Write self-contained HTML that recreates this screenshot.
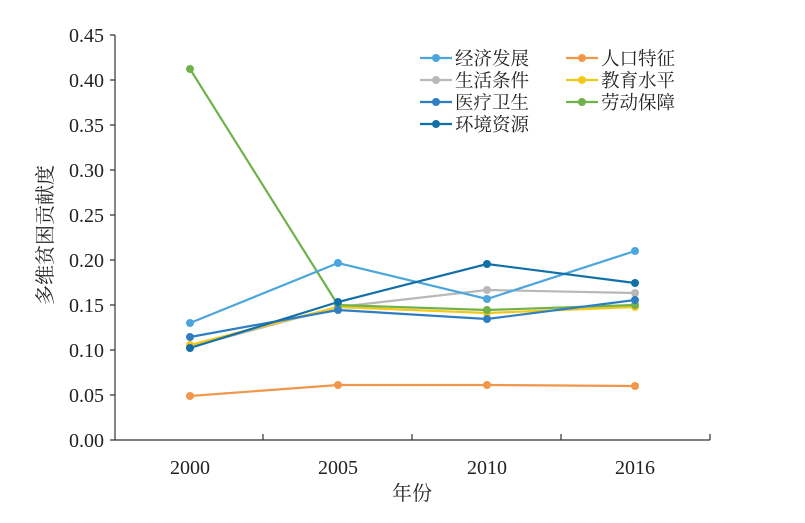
<!DOCTYPE html>
<html><head><meta charset="utf-8"><style>
body{margin:0;background:#fff}
text{font-family:"Liberation Serif","Noto Serif CJK SC",serif;fill:#222}
</style></head><body>
<svg width="805" height="518" xmlns="http://www.w3.org/2000/svg">
<g stroke="#333" stroke-width="1.2" fill="none">
<path d="M115 35V440H710"/>
<path d="M115 35h-5M115 80h-5M115 125h-5M115 170h-5M115 215h-5M115 260h-5M115 305h-5M115 350h-5M115 395h-5M115 440h-5"/>
<path d="M263 440v-6M412 440v-6M561 440v-6M710 440v-6"/>
</g>
<g font-size="20" text-anchor="end">
<text x="104" y="42">0.45</text><text x="104" y="87">0.40</text><text x="104" y="132">0.35</text><text x="104" y="177">0.30</text><text x="104" y="222">0.25</text><text x="104" y="267">0.20</text><text x="104" y="312">0.15</text><text x="104" y="357">0.10</text><text x="104" y="402">0.05</text><text x="104" y="447">0.00</text>
</g>
<g font-size="20" text-anchor="middle">
<text x="190" y="474">2000</text><text x="338" y="474">2005</text><text x="487" y="474">2010</text><text x="635" y="474">2016</text>
<text x="412" y="500">年份</text>
<text transform="translate(52,235) rotate(-90)">多维贫困贡献度</text>
</g>
<g stroke-width="2.2" fill="none">
<polyline stroke="#f0974a" points="190,396 338,385 487,385 635,386"/>
<polyline stroke="#b8b8b8" points="190,347 338,307 487,290 635,293"/>
<polyline stroke="#f3c81a" points="190,345 338,307 487,313 635,307"/>
<polyline stroke="#6fb24a" points="190,69 338,305 487,310 635,305"/>
<polyline stroke="#2f7ec4" points="190,337 338,310 487,319 635,300"/>
<polyline stroke="#4aa6dc" points="190,323 338,263 487,299 635,251"/>
<polyline stroke="#1270a8" points="190,348 338,302 487,264 635,283"/>
</g>
<g>
<g fill="#f0974a"><circle cx="190" cy="396" r="4"/><circle cx="338" cy="385" r="4"/><circle cx="487" cy="385" r="4"/><circle cx="635" cy="386" r="4"/></g>
<g fill="#b8b8b8"><circle cx="190" cy="347" r="4"/><circle cx="338" cy="307" r="4"/><circle cx="487" cy="290" r="4"/><circle cx="635" cy="293" r="4"/></g>
<g fill="#f3c81a"><circle cx="190" cy="345" r="4"/><circle cx="338" cy="307" r="4"/><circle cx="487" cy="313" r="4"/><circle cx="635" cy="307" r="4"/></g>
<g fill="#6fb24a"><circle cx="190" cy="69" r="4"/><circle cx="338" cy="305" r="4"/><circle cx="487" cy="310" r="4"/><circle cx="635" cy="305" r="4"/></g>
<g fill="#2f7ec4"><circle cx="190" cy="337" r="4"/><circle cx="338" cy="310" r="4"/><circle cx="487" cy="319" r="4"/><circle cx="635" cy="300" r="4"/></g>
<g fill="#4aa6dc"><circle cx="190" cy="323" r="4"/><circle cx="338" cy="263" r="4"/><circle cx="487" cy="299" r="4"/><circle cx="635" cy="251" r="4"/></g>
<g fill="#1270a8"><circle cx="190" cy="348" r="4"/><circle cx="338" cy="302" r="4"/><circle cx="487" cy="264" r="4"/><circle cx="635" cy="283" r="4"/></g>
</g>
<g stroke-width="2.2" font-size="18.5">
<line x1="420" y1="58" x2="452" y2="58" stroke="#4aa6dc"/><circle cx="436" cy="58" r="4" fill="#4aa6dc"/><text x="455" y="65">经济发展</text>
<line x1="420" y1="80" x2="452" y2="80" stroke="#b8b8b8"/><circle cx="436" cy="80" r="4" fill="#b8b8b8"/><text x="455" y="87">生活条件</text>
<line x1="420" y1="102" x2="452" y2="102" stroke="#2f7ec4"/><circle cx="436" cy="102" r="4" fill="#2f7ec4"/><text x="455" y="109">医疗卫生</text>
<line x1="420" y1="124" x2="452" y2="124" stroke="#1270a8"/><circle cx="436" cy="124" r="4" fill="#1270a8"/><text x="455" y="131">环境资源</text>
<line x1="566" y1="58" x2="598" y2="58" stroke="#f0974a"/><circle cx="582" cy="58" r="4" fill="#f0974a"/><text x="601" y="65">人口特征</text>
<line x1="566" y1="80" x2="598" y2="80" stroke="#f3c81a"/><circle cx="582" cy="80" r="4" fill="#f3c81a"/><text x="601" y="87">教育水平</text>
<line x1="566" y1="102" x2="598" y2="102" stroke="#6fb24a"/><circle cx="582" cy="102" r="4" fill="#6fb24a"/><text x="601" y="109">劳动保障</text>
</g>
</svg>
</body></html>
